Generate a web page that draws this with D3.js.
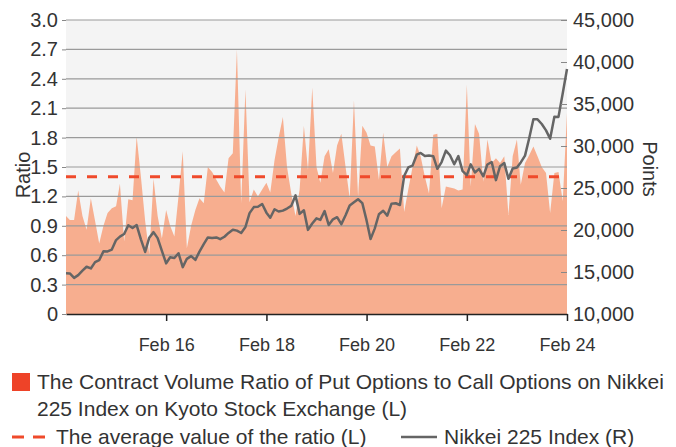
<!DOCTYPE html>
<html>
<head>
<meta charset="utf-8">
<script src="https://cdn.jsdelivr.net/npm/d3@7"></script>
<style>
  body { margin: 0; background: #fff; }
  text { font-family: "Liberation Sans", Arial, sans-serif; fill: #333; }
</style>
</head>
<body>
<svg id="chart" width="676" height="447"></svg>
<script>
// monthly data, Feb 2014 .. Feb 2024
var startMonth = new Date(2014, 1, 1);

var ratio = [
  1.00, 0.96, 0.96, 1.26, 1.00, 0.86, 1.18, 0.95, 0.72, 0.90,
  1.03, 1.08, 1.10, 1.33, 0.74, 1.17, 1.16, 1.81, 1.40, 0.95,
  0.61, 1.38, 1.00, 0.77, 1.06, 0.90, 0.79, 1.20, 1.66, 0.67,
  0.90, 1.06, 1.18, 1.13, 1.50, 1.45, 1.37, 1.30, 1.24, 1.59,
  1.64, 2.70, 1.13, 2.29, 1.14, 1.27, 1.20, 1.27, 1.34, 1.24,
  1.57, 1.80, 2.01, 1.50, 1.23, 1.00, 1.27, 1.92, 1.47, 2.31,
  1.50, 1.34, 1.61, 1.68, 1.44, 1.72, 1.84, 1.50, 1.18, 2.18,
  1.20, 1.92, 1.85, 1.72, 1.71, 1.37, 1.85, 1.50, 1.61, 1.65,
  1.69, 1.04, 1.27, 1.50, 1.72, 1.61, 1.40, 1.23, 1.83, 1.84,
  1.08, 1.30, 1.29, 1.28, 1.26, 1.27, 2.34, 1.30, 1.94, 1.84,
  1.35, 1.78, 1.54, 1.59, 1.54, 1.61, 1.01, 1.61, 1.78, 1.32,
  1.54, 1.62, 1.71, 1.61, 1.50, 1.44, 1.03, 1.44, 1.45, 1.15,
  2.05
];

var nikkei = [
  14841, 14827, 14304, 14632, 15162, 15621, 15425, 16174, 16414, 17460, 17451,
  17674, 18798, 19207, 19520, 20563, 20236, 20585, 18890, 17388, 19083, 19747, 19034,
  17518, 16027, 16759, 16666, 17235, 15576, 16569, 16887, 16450, 17425, 18308, 19114,
  19041, 19119, 18909, 19197, 19651, 20033, 19925, 19646, 20356, 22012, 22725, 22765,
  23098, 22068, 21454, 22468, 22202, 22305, 22554, 22865, 24120, 21920, 22351, 20015,
  20773, 21385, 21206, 22259, 20601, 21276, 21522, 20704, 21756, 22927, 23294, 23657,
  23205, 21143, 18917, 20194, 21878, 22288, 21710, 23140, 23185, 22977, 26434, 27444,
  27663, 28966, 29179, 28813, 28860, 28792, 27284, 28090, 29453, 28893, 27822, 28792,
  27002, 26527, 27821, 26848, 27280, 26393, 27802, 28092, 25937, 27587, 27969, 26095,
  27327, 27446, 28041, 28856, 30888, 33189, 33172, 32619, 31858, 30859, 33487, 33464,
  36287, 39166
];

var averageRatio = 1.4;
var ratioTicks = [0, 0.3, 0.6, 0.9, 1.2, 1.5, 1.8, 2.1, 2.4, 2.7, 3.0];
var pointTicks = [10000, 15000, 20000, 25000, 30000, 35000, 40000, 45000];
var tickYears = [2016, 2018, 2020, 2022, 2024];

var legendRatio = ["The Contract Volume Ratio of Put Options to Call Options on Nikkei",
                   "225 Index on Kyoto Stock Exchange (L)"];
var legendAverage = "The average value of the ratio (L)";
var legendNikkei = "Nikkei 225 Index (R)";

(function draw(){
  var pLeft = 66, pRight = 567, pTop = 20, pBottom = 314;

  var svg = d3.select("#chart");

  var months = ratio.map(function(d, i){ return d3.timeMonth.offset(startMonth, i); });

  var x = d3.scaleTime()
      .domain([startMonth, d3.timeMonth.offset(startMonth, ratio.length - 1)])
      .range([pLeft, pRight]);
  var yL = d3.scaleLinear().domain([0, 3]).range([pBottom, pTop]);
  var yR = d3.scaleLinear().domain([10000, 45000]).range([pBottom, pTop]);

  // plot background
  svg.append("rect")
      .attr("x", pLeft).attr("y", pTop)
      .attr("width", pRight - pLeft).attr("height", pBottom - pTop)
      .attr("fill", "#f4f4f4");

  // ratio area
  var area = d3.area()
      .x(function(d, i){ return x(months[i]); })
      .y0(pBottom)
      .y1(function(d){ return yL(d); });

  svg.append("path")
      .datum(ratio)
      .attr("d", area)
      .attr("fill", "#f7ae8f");

  // grid lines
  svg.append("g").selectAll("line").data(ratioTicks.slice(1))
    .enter().append("line")
      .attr("x1", pLeft).attr("x2", pRight)
      .attr("y1", function(d){ return yL(d); })
      .attr("y2", function(d){ return yL(d); })
      .attr("stroke", "#9a9a9a")
      .attr("stroke-width", 1.2);

  // average dashed line
  svg.append("line")
      .attr("x1", pLeft).attr("x2", pRight)
      .attr("y1", yL(averageRatio)).attr("y2", yL(averageRatio))
      .attr("stroke", "#ef4a2b")
      .attr("stroke-width", 3)
      .attr("stroke-dasharray", "10,11");

  // nikkei line
  var line = d3.line()
      .x(function(d, i){ return x(months[i]); })
      .y(function(d){ return yR(d); });

  svg.append("path")
      .datum(nikkei)
      .attr("d", line)
      .attr("fill", "none")
      .attr("stroke", "#656565")
      .attr("stroke-width", 2.5)
      .attr("stroke-linejoin", "round");

  // left axis
  var axL = svg.append("g")
      .attr("transform", "translate(" + pLeft + ",0)")
      .call(d3.axisLeft(yL).tickValues(ratioTicks).tickSize(4).tickPadding(4)
        .tickFormat(function(d){ return d === 0 ? "0" : d3.format(".1f")(d); }));
  axL.select(".domain").remove();
  axL.selectAll(".tick line").attr("stroke", "#888");
  axL.selectAll("text").style("font-size", "20px").attr("fill", "#333");

  // right axis
  var axR = svg.append("g")
      .attr("transform", "translate(" + pRight + ",0)")
      .call(d3.axisRight(yR).tickValues(pointTicks).tickSize(-6).tickPadding(6)
        .tickFormat(d3.format(",")));
  axR.select(".domain").remove();
  axR.selectAll(".tick line").attr("stroke", "#888");
  axR.selectAll("text").style("font-size", "20px").attr("fill", "#333");

  // bottom axis
  var axB = svg.append("g")
      .attr("transform", "translate(0," + pBottom + ")")
      .call(d3.axisBottom(x)
        .tickValues(tickYears.map(function(y){ return new Date(y, 1, 1); }))
        .tickSize(7).tickSizeOuter(0).tickPadding(17)
        .tickFormat(d3.timeFormat("Feb %y")));
  axB.select(".domain").attr("stroke", "#222").attr("stroke-width", 1.5);
  axB.selectAll(".tick line").attr("stroke", "#222").attr("stroke-width", 1.5);
  axB.selectAll("text").style("font-size", "18px").attr("fill", "#333");

  // axis titles
  svg.append("text")
      .attr("transform", "translate(30," + ((pTop + pBottom) / 2 + 8) + ") rotate(-90)")
      .attr("text-anchor", "middle")
      .style("font-size", "20px")
      .text("Ratio");
  svg.append("text")
      .attr("transform", "translate(643," + ((pTop + pBottom) / 2 + 2) + ") rotate(90)")
      .attr("text-anchor", "middle")
      .style("font-size", "20px")
      .text("Points");

  // legend
  var legend = svg.append("g");
  legend.append("rect")
      .attr("x", 12).attr("y", 373).attr("width", 18).attr("height", 18)
      .attr("fill", "#ee4328");
  legend.selectAll("text.l1").data(legendRatio)
    .enter().append("text")
      .attr("x", 37)
      .attr("y", function(d, i){ return 389 + i * 27; })
      .style("font-size", "21px")
      .text(function(d){ return d; });

  legend.append("line")
      .attr("x1", 12).attr("x2", 50).attr("y1", 437).attr("y2", 437)
      .attr("stroke", "#ef4a2b").attr("stroke-width", 3)
      .attr("stroke-dasharray", "12,9");
  legend.append("text")
      .attr("x", 56).attr("y", 444)
      .style("font-size", "21px")
      .text(legendAverage);

  legend.append("line")
      .attr("x1", 401).attr("x2", 437).attr("y1", 437).attr("y2", 437)
      .attr("stroke", "#656565").attr("stroke-width", 2.5);
  legend.append("text")
      .attr("x", 444).attr("y", 444)
      .style("font-size", "21px")
      .text(legendNikkei);
})();
</script>
</body>
</html>
